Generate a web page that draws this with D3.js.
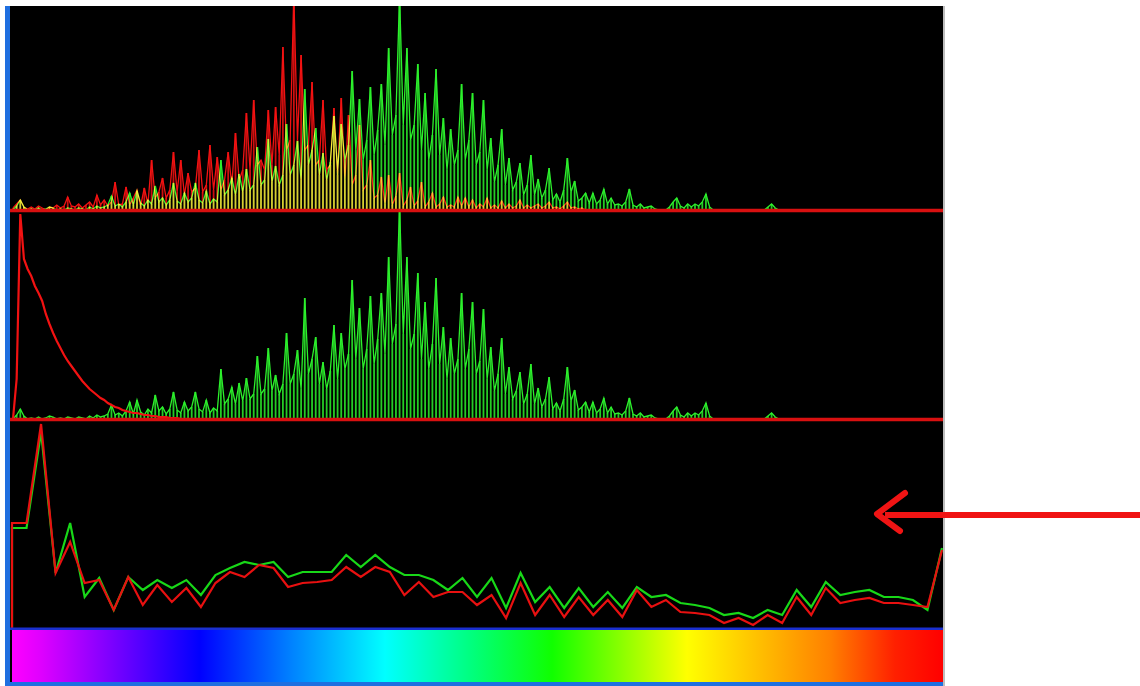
<!DOCTYPE html>
<html><head><meta charset="utf-8">
<script src="https://cdn.jsdelivr.net/npm/d3@7"></script>
<style>html,body{margin:0;padding:0;background:#fff;overflow:hidden}svg{display:block}</style>
</head><body>
<svg id="c" width="1140" height="686"></svg>
<script>
// ---- DATA (pixel-height units) ----
const greenHist = [
 0,4,10,3,0,1,0,2,0,1,
 3,2,0,1,0,2,1,0,2,1,
 0,3,1,4,2,3,5,14,4,6,
 3,8,17,5,19,7,4,10,6,24,
 8,12,5,10,27,9,6,17,8,12,
 27,10,7,19,6,11,8,50,15,20,
 32,15,36,18,41,20,25,63,25,30,
 71,28,44,25,35,86,35,45,69,30,
 121,45,60,82,35,57,30,48,94,40,
 86,50,65,139,60,111,50,70,123,55,
 80,126,65,162,75,95,215,85,162,70,
 85,146,60,117,50,75,141,55,92,40,
 81,45,60,126,50,70,117,45,58,110,
 40,72,28,45,81,25,52,20,28,47,
 15,25,55,15,31,12,20,42,10,16,
 8,20,52,18,29,9,12,17,7,17,
 6,10,21,6,12,5,6,4,8,21,
 5,3,6,2,3,4,1,0,0,0,
 3,8,12,4,2,6,3,6,4,8,
 16,3,0,0,0,0,0,0,0,0,
 0,0,0,0,0,0,0,3,6,2,
 0,0,0,0,0,0,0,0,0,0,
 0,0,0,0,0,0,0,0,0,0,
 0,0,0,0,0,0,0,0,0,0,
 0,0,0,0,0,0,0,0,0,0,
 0,0,0,0,0,0
];
const redHist = [
 2,6,10,3,1,3,1,4,2,0,
 3,2,5,2,4,13,4,3,6,2,
 5,8,3,15,5,10,4,8,28,5,
 6,23,5,12,20,4,22,6,50,12,
 18,32,12,20,58,18,50,15,37,18,
 22,60,18,25,65,20,53,20,30,58,
 25,77,30,40,97,40,110,45,50,40,
 100,45,103,55,163,60,70,215,70,155,
 60,65,128,45,50,110,40,45,102,35,
 112,30,95,25,35,85,20,25,50,12,
 15,33,6,35,5,14,37,4,10,23,
 4,9,28,3,8,17,3,6,13,3,
 5,3,13,4,12,3,10,2,6,3,
 12,2,5,2,9,2,6,2,4,10,
 2,5,2,4,6,2,4,8,2,3,
 1,4,8,2,3,1,2,0,0,0,
 0,0,0,0,0,0,0,0,0,0,
 0,0,0,0,0,0,0,0,0,0,
 0,0,0,0,0,0,0,0,0,0,
 0,0,0,0,0,0,0,0,0,0,
 0,0,0,0,0,0,0,0,0,0,
 0,0,0,0,0,0,0,0,0,0,
 0,0,0,0,0,0,0,0,0,0,
 0,0,0,0,0,0,0,0,0,0,
 0,0,0,0,0,0,0,0,0,0,
 0,0,0,0,0,0
];
const redDecay = [
 0,40,205,160,150,143,133,126,118,105,
 95,86,78,71,64,58,53,48,43,38,
 34,30,27,24,21,19,16,14,12,11,
 9,8,7,6,6,5,4,4,3,3,
 2,2,2,1,1,1,0,0,0,0
];
const greenLine = [100,100,196,55,105,31,50,18,51,38,48,40,48,33,53,60,66,63,66,51,56,56,56,73,61,73,61,53,53,48,38,50,31,50,20,55,26,41,20,40,21,36,20,41,31,33,25,23,20,13,15,10,18,13,38,21,46,33,36,38,31,31,28,18,80];
const redLine   = [105,105,204,55,86,45,48,18,51,23,43,26,40,21,45,56,51,63,60,41,45,46,48,61,51,61,56,33,46,31,36,36,23,33,10,45,13,33,11,31,13,28,11,38,21,28,16,15,13,5,10,3,13,5,31,13,40,25,28,30,25,25,23,21,78];
const spectrumColors = ["#ff00ff","#e000ff","#0000ff","#0080ff","#00ffff","#00ff80","#10ff00","#ffff00","#ff8000","#ff2000","#ff0000"];

// ---- DRAWING ----
const svg = d3.select("#c");
const L = 13, R = 943;
const xBin = d3.scaleLinear().domain([0, 255]).range([L, R]);
const xPt  = d3.scaleLinear().domain([0, greenLine.length - 1]).range([L - 1, R - 1]);
const yTop = d3.scaleLinear().domain([0, 204]).range([210, 6]);
const yMid = d3.scaleLinear().domain([0, 207]).range([419, 212]);
const yBot = d3.scaleLinear().domain([0, 209]).range([628, 419]);

const defs = svg.append("defs");
function clip(id, y0, y1){
  defs.append("clipPath").attr("id", id).append("rect")
    .attr("x", 10).attr("y", y0).attr("width", R - 10).attr("height", y1 - y0);
}
clip("cTop", 6, 212); clip("cMid", 211, 421); clip("cBot", 419, 629);

const grad = defs.append("linearGradient").attr("id", "spec")
  .attr("x1", "0%").attr("x2", "100%").attr("y1", "0%").attr("y2", "0%");
const stopX = [12, 40, 200, 290, 385, 470, 552, 687, 830, 895, 943];
spectrumColors.forEach((c, i) => {
  grad.append("stop").attr("offset", ((stopX[i] - 12) / (943 - 12) * 100) + "%").attr("stop-color", c);
});

// background
svg.append("rect").attr("width", 1140).attr("height", 686).attr("fill", "#fff");
svg.append("rect").attr("x", 10).attr("y", 6).attr("width", R - 10).attr("height", 680).attr("fill", "#000");
svg.append("rect").attr("x", 5).attr("y", 6).attr("width", 5).attr("height", 680).attr("fill", "#1f6fe0");
svg.append("line").attr("x1", R + 1).attr("x2", R + 1).attr("y1", 6).attr("y2", 686)
  .attr("stroke", "#bdbdbd").attr("stroke-width", 2);

const GREEN = "#2cf02c", RED = "#f21212";

function drawHist(g, data, y, color, w){
  const grp = g.append("g").style("mix-blend-mode", "screen");
  grp.selectAll("line").data(data).join("line")
    .attr("x1", (d, i) => xBin(i)).attr("x2", (d, i) => xBin(i))
    .attr("y1", y(0)).attr("y2", d => y(d))
    .attr("stroke", color).attr("stroke-width", w).attr("stroke-opacity", 0.85);
  grp.append("path").datum(data)
    .attr("d", d3.line().x((d, i) => xBin(i)).y(d => y(d)))
    .attr("fill", "none").attr("stroke", color).attr("stroke-width", 1.3);
}

// top panel
const gTop = svg.append("g").attr("clip-path", "url(#cTop)");
drawHist(gTop, greenHist, yTop, GREEN, 1.8);
drawHist(gTop, redHist, yTop, RED, 1.8);

// middle panel
const gMid = svg.append("g").attr("clip-path", "url(#cMid)");
drawHist(gMid, greenHist, yMid, GREEN, 1.8);
gMid.append("path").datum(redDecay)
  .attr("d", d3.line().x((d, i) => xBin(i)).y(d => yMid(d)))
  .attr("fill", "none").attr("stroke", RED).attr("stroke-width", 2.2);

// baselines
[210.5, 419.5].forEach(y => {
  svg.append("line").attr("x1", 10).attr("x2", R).attr("y1", y).attr("y2", y)
    .attr("stroke", "#d81010").attr("stroke-width", 3.5);
});

// bottom panel lines
const gBot = svg.append("g").attr("clip-path", "url(#cBot)");
const ptLine = d3.line().x(d => xPt(d.i)).y(d => yBot(d.v));
const toPts = arr => [{i: 0, v: 0}].concat(arr.map((v, i) => ({i, v})));
gBot.append("path").datum(toPts(greenLine)).attr("d", ptLine)
  .attr("fill", "none").attr("stroke", "#18d818").attr("stroke-width", 2.2);
gBot.append("path").datum(toPts(redLine)).attr("d", ptLine)
  .attr("fill", "none").attr("stroke", "#e81010").attr("stroke-width", 2.2);

// colour bar
svg.append("rect").attr("x", 10).attr("y", 627.5).attr("width", R - 10).attr("height", 2.5).attr("fill", "#1a2fd0");
svg.append("rect").attr("x", 12).attr("y", 630).attr("width", R - 12).attr("height", 52).attr("fill", "url(#spec)");
svg.append("rect").attr("x", 5).attr("y", 682).attr("width", R - 5).attr("height", 4).attr("fill", "#1f6fe0");

// arrow
svg.append("line").attr("x1", 885).attr("x2", 1140).attr("y1", 515).attr("y2", 515)
  .attr("stroke", "#f01414").attr("stroke-width", 6);
svg.append("path").attr("d", d3.line()([[905, 493], [877, 514], [900, 531]]))
  .attr("fill", "none").attr("stroke", "#f01414").attr("stroke-width", 6)
  .attr("stroke-linecap", "round").attr("stroke-linejoin", "round");
</script>
</body></html>
